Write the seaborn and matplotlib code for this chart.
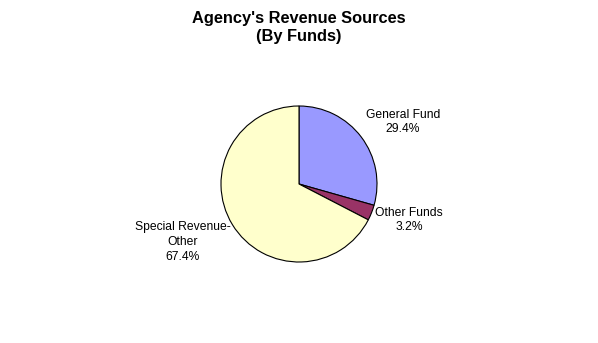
import matplotlib
matplotlib.use("Agg")
import matplotlib.pyplot as plt
import seaborn as sns

categories = ["General Fund", "Other Funds", "Special Revenue-\nOther"]
shares = [29.4, 3.2, 67.4]
colors = ["#9999FF", "#993366", "#FFFFCC"]
title = "Agency's Revenue Sources\n(By Funds)"

sns.set_theme(style="white")
plt.rcParams['font.family'] = ['Liberation Sans', 'DejaVu Sans']
plt.rcParams['text.color'] = 'black'

W, H = 598, 343
fig = plt.figure(figsize=(W / 100, H / 100), dpi=100)
ax = fig.add_axes([0, 0, 1, 1])

# y axis is inverted below: data angle -90 is screen "up", and
# counterclockwise in data appears clockwise on screen.
wedges, _ = ax.pie(shares, colors=colors, startangle=-90, counterclock=True,
                   center=(299, 184), radius=78,
                   wedgeprops=dict(edgecolor='black', linewidth=0.8))
ax.set_xlim(0, W)
ax.set_ylim(H, 0)
ax.set_aspect('equal')
ax.axis('off')

label_pos = [(403, 122), (409, 220), (183, 242)]
for cat, val, (x, y) in zip(categories, shares, label_pos):
    ax.text(x, y, f"{cat}\n{val:.1f}%", ha='center', va='center',
            fontsize=8.7, linespacing=1.3, color='black')

ax.text(299, 28, title, ha='center', va='center', fontsize=11.8,
        fontweight='bold', linespacing=1.25, color='black')

fig.savefig("out.png", dpi=100, facecolor='white')
